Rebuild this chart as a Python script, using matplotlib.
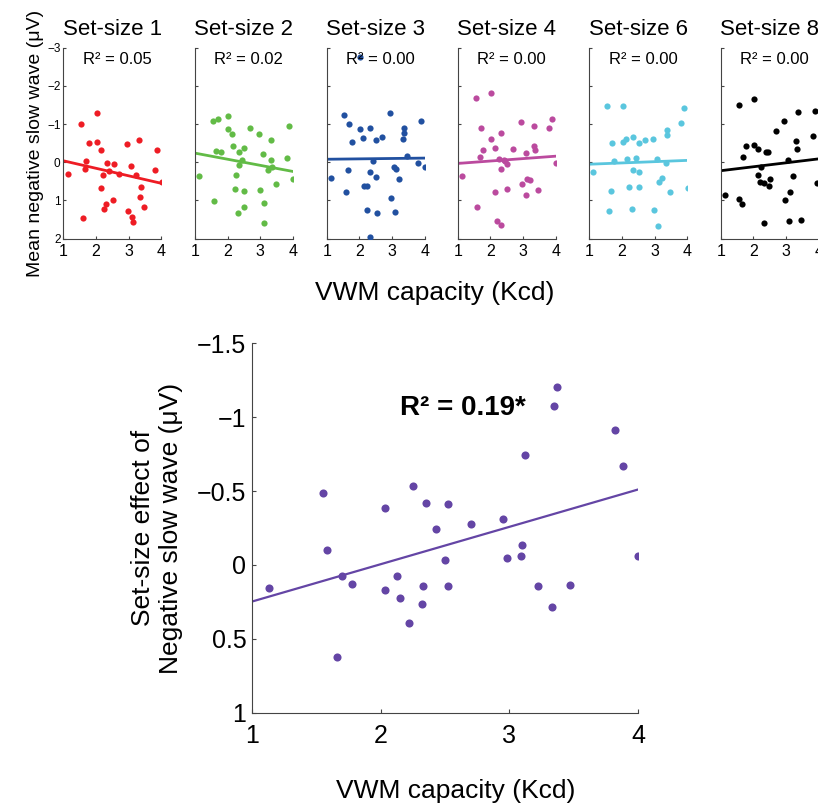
import numpy as np
import matplotlib
matplotlib.use("Agg")
import matplotlib.pyplot as plt

plt.rcParams['font.family'] = ['Liberation Sans', 'DejaVu Sans']

# ---- top row: one panel per set size ----
set_sizes = [1, 2, 3, 4, 6, 8]
r2_labels = ["0.05", "0.02", "0.00", "0.00", "0.00", "0.00"]
colors = ["#ee1c24", "#62bb46", "#2150a0", "#bb4a9e", "#5ac6de", "#000000"]

k1 = [1.14, 1.55, 1.59, 1.67, 1.70, 1.78, 2.03, 2.04, 2.14, 2.16, 2.23, 2.25, 2.31, 2.35, 2.41, 2.54,
      2.52, 2.69, 2.96, 2.99, 3.08, 3.10, 3.12, 3.22, 3.33, 3.37, 3.35, 3.48, 3.82, 3.88, 4.01]
v1 = [0.31, -1.01, 1.46, 0.18, -0.04, -0.51, -1.30, -0.54, -0.31, 0.68, 0.32, 1.22, 1.10, 0.01, 0.24, 0.05,
      0.99, 0.31, -0.47, 1.27, 0.09, 1.42, 1.55, 0.32, -0.58, 0.64, 0.92, 1.17, 0.21, -0.31, 0.51]

k2 = [1.13, 1.54, 1.69, 1.57, 2.02, 2.02, 2.13, 2.15, 1.64, 1.79, 2.24, 2.22, 2.31, 2.35, 2.34, 2.44, 2.51,
      2.50, 2.51, 2.69, 2.95, 2.98, 3.08, 3.12, 3.10, 3.22, 3.33, 3.34, 3.36, 3.47, 3.81, 3.88, 4.00]
v2 = [0.36, -1.09, -1.13, 1.02, -1.22, -0.86, -0.73, -0.43, -0.29, -0.27, 0.34, 0.70, 1.34, 0.08, -0.28, -0.07, -0.38,
      0.75, 1.17, -0.90, -0.74, 0.72, -0.21, 1.06, 1.58, 0.19, -0.59, -0.06, 0.11, 0.57, -0.10, -0.94, 0.44]

k3 = [1.12, 1.54, 1.58, 1.66, 1.69, 1.77, 2.02, 2.03, 2.12, 2.15, 2.24, 2.22, 2.34, 2.32, 2.32, 2.43, 2.51,
      2.51, 2.53, 2.69, 2.95, 2.98, 3.06, 3.11, 3.10, 3.22, 3.37, 3.36, 3.33, 3.47, 3.81, 3.90, 4.02]
v3 = [0.40, -1.23, 0.77, 0.20, -0.99, -0.53, -2.75, -0.87, -0.63, 0.61, 0.61, 1.24, -0.91, 0.25, 1.96, -0.03, -0.58,
      0.39, 1.32, -0.65, -1.29, 0.94, 0.13, 0.17, 1.31, 0.45, -0.90, -0.76, -0.61, -0.17, 0.03, -1.09, 0.11]

k4 = [1.13, 1.55, 1.58, 1.67, 1.70, 1.78, 2.02, 2.02, 2.13, 2.15, 2.21, 2.26, 2.32, 2.34, 2.32, 2.42, 2.46,
      2.51, 2.52, 2.69, 2.94, 2.97, 3.08, 3.11, 3.20, 3.10, 3.34, 3.33, 3.37, 3.47, 3.80, 3.89, 4.00]
v4 = [0.37, -1.68, 1.16, -0.14, -0.91, -0.33, -1.81, -0.62, -0.38, 0.79, 1.54, -0.08, 1.64, -0.78, 0.17, -0.06, -0.03,
      0.71, 0.04, -0.34, -1.06, 0.58, -0.24, 0.43, 0.46, 0.85, -0.94, -0.42, -0.33, 0.72, -0.90, -1.13, 0.03]

k5 = [1.12, 1.55, 1.59, 1.66, 1.69, 1.77, 2.02, 2.02, 2.12, 2.14, 2.22, 2.31, 2.33, 2.35, 2.44, 2.51,
      2.52, 2.52, 2.69, 2.96, 2.99, 3.08, 3.10, 3.12, 3.22, 3.34, 3.37, 3.38, 3.47, 3.82, 3.90, 4.01]
v5 = [0.25, -1.47, 1.28, 0.75, -0.50, -0.03, -1.47, -0.53, -0.60, -0.08, 0.64, 1.22, 0.21, -0.66, -0.10, 0.25,
      0.65, -0.51, -0.58, -0.60, 1.25, -0.08, 1.68, 0.52, 0.40, 0.03, -0.71, -0.85, 0.79, -1.03, -1.42, 0.68]

k6 = [1.12, 1.55, 1.57, 1.66, 1.69, 1.78, 2.02, 2.02, 2.13, 2.13, 2.21, 2.24, 2.32, 2.33, 2.39, 2.45,
      2.52, 2.49, 2.70, 2.94, 2.98, 3.07, 3.11, 3.09, 3.21, 3.32, 3.33, 3.36, 3.46, 3.83, 3.88, 3.95]
v6 = [0.85, -1.50, 0.96, 1.10, -0.13, -0.43, -1.67, -0.45, -0.36, 0.33, 0.52, 0.12, 1.58, 0.53, -0.27, -0.26,
      0.44, 0.62, -0.83, -1.09, 0.99, -0.05, 0.78, 1.53, 0.35, -0.55, -0.35, -1.31, 1.50, -0.68, -1.34, 0.53]

kcd_small = [k1, k2, k3, k4, k5, k6]
wave_small = [v1, v2, v3, v4, v5, v6]

# fitted line, value at Kcd = 1 and Kcd = 4
fit_at_1 = [-0.04, -0.24, -0.08, 0.03, 0.05, 0.22]
fit_at_4 = [0.55, 0.24, -0.11, -0.16, -0.05, -0.09]

small_yticks = [-3, -2, -1, 0, 1, 2]
small_yticklabels = ["\u22123", "\u22122", "\u22121", "0", "1", "2"]
xticks = [1, 2, 3, 4]

# ---- bottom panel: set-size effect ----
kcd = [1.13, 1.55, 1.58, 1.66, 1.70, 1.78, 2.03, 2.03, 2.13, 2.15, 2.22, 2.25, 2.32, 2.33, 2.35, 2.43, 2.50,
       2.52, 2.52, 2.70, 2.95, 2.98, 3.09, 3.10, 3.12, 3.22, 3.33, 3.35, 3.37, 3.47, 3.82, 3.88, 4.00]
effect = [0.153, -0.486, -0.099, 0.623, 0.072, 0.130, -0.384, 0.169, 0.076, 0.225, 0.389, -0.533, 0.263, 0.139,
          -0.418, -0.245, -0.031, -0.409, 0.139, -0.279, -0.308, -0.047, -0.061, -0.137, -0.740, 0.142, 0.281,
          -1.075, -1.20, 0.133, -0.915, -0.668, -0.058]
effect_fit = [0.247, -0.51]  # at Kcd = 1 and 4
big_yticks = [-1.5, -1, -0.5, 0, 0.5, 1]
big_yticklabels = ["\u22121.5", "\u22121", "\u22120.5", "0", "0.5", "1"]
purple = "#6445a5"
spine_col = "#444444"

W, H = 818, 809
fig = plt.figure(figsize=(W / 100, H / 100), dpi=100)

lefts = [63.3, 195.0, 326.7, 457.7, 589.3, 720.7]
for i in range(6):
    ax = fig.add_axes([lefts[i] / W, 1 - 238.7 / H, 98 / W, 191 / H])
    ax.scatter(kcd_small[i], wave_small[i], s=20, color=colors[i], linewidths=0, zorder=3)
    ax.plot([1, 4], [fit_at_1[i], fit_at_4[i]], color=colors[i], lw=2)
    ax.set_xlim(1, 4)
    ax.set_ylim(2, -3)
    ax.set_xticks(xticks)
    ax.set_yticks(small_yticks)
    if i == 0:
        ax.set_yticklabels(small_yticklabels, fontsize=8.5)
        ax.set_ylabel("Mean negative slow wave (\u03bcV)", fontsize=14, labelpad=2)
    else:
        ax.set_yticklabels([])
    ax.tick_params(axis='x', direction='in', length=2.5, labelsize=11.5, pad=4, color=spine_col)
    ax.tick_params(axis='y', direction='in', length=2.5, pad=2, color=spine_col)
    for s in ['top', 'right']:
        ax.spines[s].set_visible(False)
    for s in ['left', 'bottom']:
        ax.spines[s].set_color(spine_col)
    ax.set_title("Set-size %d" % set_sizes[i], fontsize=16, pad=9)
    ax.text(2.65, -2.7, "R\u00b2 = " + r2_labels[i], fontsize=12, ha='center', va='center')

fig.text(435 / W, 1 - 293 / H, "VWM capacity (Kcd)", fontsize=19, ha='center', va='center')

ax = fig.add_axes([252 / W, 1 - 713 / H, 386 / W, 370 / H])
ax.scatter(kcd, effect, s=34, color=purple, linewidths=0, zorder=3)
ax.plot([1, 4], effect_fit, color=purple, lw=1.6)
ax.set_xlim(1, 4)
ax.set_ylim(1, -1.5)
ax.set_xticks(xticks)
ax.set_yticks(big_yticks)
ax.set_yticklabels(big_yticklabels)
ax.tick_params(direction='in', length=3, labelsize=18, color=spine_col)
ax.tick_params(axis='y', pad=4)
ax.tick_params(axis='x', pad=8)
for s in ['top', 'right']:
    ax.spines[s].set_visible(False)
for s in ['left', 'bottom']:
    ax.spines[s].set_color(spine_col)
ax.set_ylabel("Set-size effect of\nNegative slow wave (\u03bcV)", fontsize=19, labelpad=10)
ax.text(2.64, -1.06, "R\u00b2 = 0.19*", fontsize=20, fontweight='bold', ha='center', va='center')

fig.text(456 / W, 1 - 791 / H, "VWM capacity (Kcd)", fontsize=19, ha='center', va='center')

fig.savefig("out.png", dpi=100)
